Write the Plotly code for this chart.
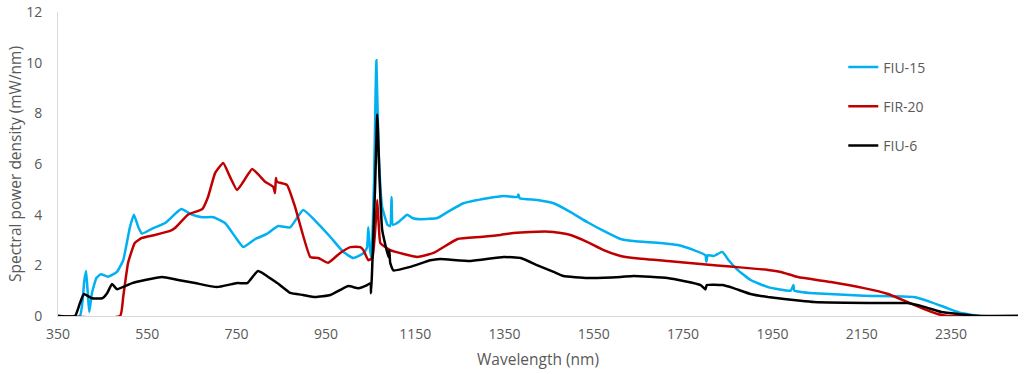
import plotly.graph_objects as go

# ---- data ----
fiu15_wl = [350, 399, 405, 409, 413, 417, 420, 426, 436, 446, 462, 482, 496, 511, 520, 530, 538, 561, 590, 626,
            650, 673, 698, 724, 747, 765, 792, 818, 843, 870, 899, 931, 960, 989, 1011, 1027, 1034, 1042, 1045, 1049,
            1052, 1058, 1063, 1068, 1076, 1088, 1094, 1097, 1100, 1112, 1132, 1143, 1162, 1200, 1222, 1258, 1312, 1348,
            1379, 1381, 1384, 1424, 1460, 1498, 1536, 1572, 1610, 1639, 1700, 1738, 1774, 1800, 1802, 1805, 1818, 1838,
            1852, 1872, 1901, 1940, 1991, 1997, 1999, 2013, 2043, 2155, 2267, 2305, 2343, 2372, 2417, 2500]
fiu15_val = [0.0, 0.0, 0.6, 1.4, 1.78, 0.8, 0.16, 0.9, 1.5, 1.65, 1.55, 1.74, 2.2, 3.5, 4.0, 3.5, 3.25, 3.45, 3.67, 4.22,
             4.0, 3.9, 3.9, 3.67, 3.12, 2.72, 3.04, 3.24, 3.55, 3.5, 4.18, 3.67, 3.12, 2.53, 2.29, 2.4, 2.48, 2.7, 3.5, 2.6,
             2.3, 5.5, 10.1, 6.5, 4.3, 3.6, 3.55, 4.7, 3.6, 3.7, 4.0, 3.87, 3.82, 3.87, 4.1, 4.45, 4.65, 4.74,
             4.7, 4.8, 4.65, 4.58, 4.45, 4.1, 3.7, 3.36, 3.04, 2.96, 2.88, 2.8, 2.6, 2.4, 2.13, 2.4, 2.37, 2.53,
             2.2, 1.82, 1.42, 1.14, 1.0, 1.22, 1.0, 0.95, 0.9, 0.8, 0.75, 0.55, 0.3, 0.12, 0.0, 0.0]

fir20_wl = [350, 489, 496, 507, 522, 538, 567, 601, 612, 641, 673, 686, 702, 720, 735, 751, 765, 785, 814, 832,
            836, 838, 840, 863, 881, 915, 933, 955, 982, 1005, 1027, 1034, 1045, 1054, 1060, 1065, 1069, 1072, 1094,
            1155, 1191, 1245, 1296, 1341, 1370, 1408, 1460, 1498, 1536, 1572, 1610, 1639, 1715, 1789, 1863, 1940,
            1969, 2007, 2081, 2155, 2209, 2253, 2283, 2320, 2343, 2500]
fir20_val = [0.0, 0.0, 0.75, 2.1, 2.88, 3.08, 3.2, 3.36, 3.47, 4.0, 4.22, 4.7, 5.65, 6.04, 5.5, 4.97, 5.3, 5.8, 5.3, 5.1,
             4.85, 5.45, 5.3, 5.17, 4.3, 2.33, 2.29, 2.1, 2.49, 2.72, 2.72, 2.6, 2.2, 2.29, 3.3, 4.58, 3.4, 2.88, 2.6,
             2.33, 2.49, 3.04, 3.12, 3.2, 3.28, 3.32, 3.32, 3.2, 2.92, 2.6, 2.37, 2.29, 2.17, 2.05, 1.94, 1.82,
             1.74, 1.54, 1.34, 1.1, 0.87, 0.55, 0.32, 0.08, 0.0, 0.0]

fiu6_wl = [350, 388, 399, 408, 426, 449, 460, 471, 482, 516, 545, 583, 619, 657, 706, 751, 774, 798, 841, 870,
           899, 926, 960, 982, 1000, 1023, 1040, 1050, 1051, 1053, 1060, 1065, 1070, 1076, 1090, 1092, 1094, 1101,
           1139, 1184, 1206, 1274, 1348, 1386, 1424, 1460, 1482, 1536, 1610, 1639, 1715, 1789, 1800, 1803, 1838,
           1863, 1901, 1940, 2013, 2043, 2193, 2253, 2290, 2328, 2366, 2417, 2500]
fiu6_val = [0.0, 0.0, 0.5, 0.87, 0.7, 0.7, 0.9, 1.26, 1.06, 1.3, 1.42, 1.54, 1.42, 1.3, 1.14, 1.3, 1.3, 1.78, 1.3, 0.91,
            0.83, 0.75, 0.83, 1.03, 1.18, 1.1, 1.2, 1.3, 0.9, 1.6, 5.0, 7.95, 5.5, 3.4, 2.33, 2.6, 2.1, 1.8,
            1.94, 2.2, 2.25, 2.17, 2.33, 2.29, 2.0, 1.74, 1.58, 1.5, 1.54, 1.58, 1.5, 1.22, 1.05, 1.22, 1.22,
            1.1, 0.87, 0.75, 0.6, 0.55, 0.51, 0.51, 0.36, 0.16, 0.08, 0.0, 0.0]

x_ticks = [350, 550, 750, 950, 1150, 1350, 1550, 1750, 1950, 2150, 2350]
y_ticks = [0, 2, 4, 6, 8, 10, 12]

series = [
    ("FIU-15", fiu15_wl, fiu15_val, "#00B0F0"),
    ("FIR-20", fir20_wl, fir20_val, "#C00000"),
    ("FIU-6", fiu6_wl, fiu6_val, "#000000"),
]

fig = go.Figure()
for i, (name, xs, ys, col) in enumerate(series):
    fig.add_trace(go.Scatter(x=xs, y=ys, name=name, mode="lines",
                             line=dict(color=col, width=2.5, shape="spline", smoothing=0.4),
                             legendgroup=f"g{i}"))

font_family = "'Open Sans', Lato, sans-serif"
grey = "#595959"
fig.update_layout(
    width=1024, height=374,
    margin=dict(l=58, r=6, t=12, b=58, autoexpand=False),
    paper_bgcolor="white", plot_bgcolor="white",
    font=dict(family=font_family, size=14, color=grey),
    showlegend=True,
    legend=dict(x=0.818, y=0.87, xanchor="left", yanchor="top",
                tracegroupgap=18, traceorder="grouped",
                font=dict(size=14, color=grey), itemwidth=30,
                bgcolor="rgba(0,0,0,0)"),
    xaxis=dict(range=[350, 2500], tickvals=x_ticks, ticktext=[str(v) for v in x_ticks],
               showgrid=False, zeroline=False, showline=True, linecolor="#d9d9d9", linewidth=1,
               ticks="", automargin=False, ticklabelstandoff=5,
               title=dict(text="Wavelength (nm)", font=dict(size=15.5, color=grey), standoff=12),
               tickfont=dict(size=14, color=grey)),
    yaxis=dict(range=[0, 12], tickvals=y_ticks, ticklabelstandoff=12,
               showgrid=False, zeroline=False, showline=True, linecolor="#d9d9d9", linewidth=1,
               ticks="", automargin=False,
               title=dict(text="Spectral power density (mW/nm)", font=dict(size=15.5, color=grey), standoff=0),
               tickfont=dict(size=14, color=grey)),
)

# remove the browser's default 8px body margin so the figure sits at the page origin
fig.write_html("out.html",
               config={"displayModeBar": False},
               post_script="document.body.style.margin='0';document.body.style.overflow='hidden';")
